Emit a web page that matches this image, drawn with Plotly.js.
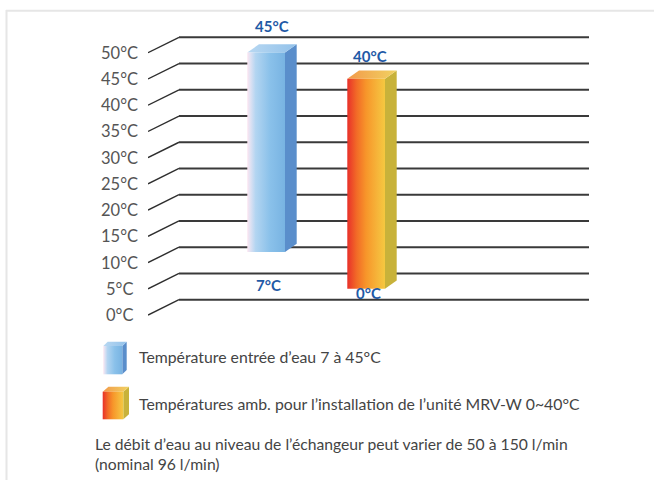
<!DOCTYPE html>
<html>
<head>
<meta charset="utf-8">
<script src="https://cdn.plot.ly/plotly-3.0.1.min.js"></script>
<style>html,body{margin:0;padding:0;background:#fff;}#chart{width:654px;height:480px;}</style>
</head>
<body>
<div id="chart"></div>
<script>
// ---------- data ----------
const TICKS = [0, 5, 10, 15, 20, 25, 30, 35, 40, 45, 50];
const TICK_TEXT = ['0°C', '5°C', '10°C', '15°C', '20°C', '25°C', '30°C', '35°C', '40°C', '45°C', '50°C'];
const SERIES = ['Température entrée d’eau 7 à 45°C',
                'Températures amb. pour l’installation de l’unité MRV-W 0~40°C'];
const LOW = [7, 0];
const HIGH = [45, 40];
const LOW_TEXT = ['7°C', '0°C'];
const HIGH_TEXT = ['45°C', '40°C'];
const NOTE = ['Le débit d’eau au niveau de l’échangeur peut varier de 50 à 150 l/min',
              '(nominal 96 l/min)'];

// ---------- layout constants ----------
const W = 654, H = 480;
const PLOT_L = 148, PLOT_R = 589, PLOT_T = 30, PLOT_B = 320;
const Y_RANGE = [-3.87, 51.39];
const PXY = (PLOT_B - PLOT_T) / (Y_RANGE[1] - Y_RANGE[0]);   // px per °C
const WALL_DX = 31, WALL_DY = 15.4 / PXY;                     // perspective of the floor lines
const X_MAX = PLOT_R - PLOT_L;
const BAR_LEFT = [99.3, 199.3], BAR_W = 37.7;
const BAR_DX = 11.7, BAR_DY = 8.2 / PXY, LIFT = 2.1;
const FRONT_GRAD = [
  [[0, '#fbe4f0'], [0.07, '#e4e3f3'], [0.22, '#b3d5f1'], [0.6, '#8ac1ea'], [1, '#78b3e2']],
  [[0, '#e8302a'], [0.25, '#f26b27'], [0.5, '#f7962a'], [0.8, '#f6b53a'], [1, '#f5c840']]
];
const SIDE_COL = ['#5a8ecb', '#c8b23a'];
const TOP_GRAD = [
  [[0, '#b8d8f2'], [1, '#93c2ea']],
  [[0, '#f29a4a'], [1, '#f1d262']]
];
const LABEL_COL = '#1f5aa6';
const LABEL_SHIFT_TOP = [27, 23], LABEL_SHIFT_BOT = [-33, -4];
const LABEL_DX = [6, 4], LABEL_DX_BOT = [2, 2];

const traces = [];
// floor/grid lines
const dX = [], dY = [], hX = [], hY = [];
TICKS.forEach(v => {
  dX.push(0, WALL_DX, null); dY.push(v - WALL_DY, v, null);
  hX.push(WALL_DX, X_MAX, null); hY.push(v, v, null);
});
traces.push({type: 'scatter', mode: 'lines', x: dX, y: dY, line: {color: '#2e2e2e', width: 1.4}, hoverinfo: 'skip', showlegend: false});
traces.push({type: 'scatter', mode: 'lines', x: hX, y: hY, line: {color: '#3a3a3a', width: 2}, hoverinfo: 'skip', showlegend: false});

// 3D bars
function cube(x0, w, b, t, dx, dy, i, xa, ya) {
  const x1 = x0 + w;
  traces.push({type: 'scatter', mode: 'none', fill: 'toself', xaxis: xa, yaxis: ya,
    x: [x1, x1 + dx, x1 + dx, x1, x1], y: [b, b + dy, t + dy, t, b],
    fillcolor: SIDE_COL[i], hoverinfo: 'skip', showlegend: false});
  traces.push({type: 'scatter', mode: 'none', fill: 'toself', xaxis: xa, yaxis: ya,
    x: [x0, x1, x1 + dx, x0 + dx, x0], y: [t, t, t + dy, t + dy, t],
    fillgradient: {type: 'horizontal', colorscale: TOP_GRAD[i]}, hoverinfo: 'skip', showlegend: false});
  traces.push({type: 'scatter', mode: 'none', fill: 'toself', xaxis: xa, yaxis: ya,
    x: [x0, x1, x1, x0, x0], y: [b, b, t, t, b],
    fillgradient: {type: 'horizontal', colorscale: FRONT_GRAD[i]}, hoverinfo: 'skip', showlegend: false});
}
SERIES.forEach((s, i) => {
  cube(BAR_LEFT[i], BAR_W, LOW[i] + LIFT, HIGH[i] + LIFT, BAR_DX, BAR_DY, i, 'x', 'y');
});

// legend swatches (pixel axes x2/y2)
const ICON_X = [103.3, 102.7], ICON_W = [19, 20.6], ICON_TOP = [346, 391.7], ICON_BOT = [374.3, 419.3];
const ICON_DX = [4.4, 5.7], ICON_DY = [-4.3, -5];
SERIES.forEach((s, i) => {
  cube(ICON_X[i], ICON_W[i], ICON_BOT[i], ICON_TOP[i], ICON_DX[i], ICON_DY[i], i, 'x2', 'y2');
});

const ann = [];
const font = 'Lato, "Open Sans", sans-serif';
TICKS.forEach((v, k) => {
  ann.push({xref: 'paper', yref: 'y', x: 119 / W, y: v - WALL_DY, text: TICK_TEXT[k], showarrow: false,
    xanchor: 'center', yanchor: 'middle', font: {family: font, size: 16.5, color: '#555'}});
});
SERIES.forEach((s, i) => {
  ann.push({xref: 'x', yref: 'y', x: BAR_LEFT[i] + BAR_W / 2 + LABEL_DX[i], y: HIGH[i] + LIFT, yshift: LABEL_SHIFT_TOP[i],
    text: HIGH_TEXT[i], showarrow: false, xanchor: 'center', yanchor: 'middle',
    font: {family: font, size: 15, color: LABEL_COL, weight: 'bold'}});
  ann.push({xref: 'x', yref: 'y', x: BAR_LEFT[i] + BAR_W / 2 + LABEL_DX_BOT[i], y: LOW[i] + LIFT, yshift: LABEL_SHIFT_BOT[i],
    text: LOW_TEXT[i], showarrow: false, xanchor: 'center', yanchor: 'middle',
    font: {family: font, size: 15, color: LABEL_COL, weight: 'bold'}});
  ann.push({xref: 'paper', yref: 'paper', x: 137 / W, y: 1 - [356.7, 403][i] / H, text: s, showarrow: false,
    xanchor: 'left', yanchor: 'middle', font: {family: font, size: 15.8, color: '#444'}});
});
ann.push({xref: 'paper', yref: 'paper', x: 93 / W, y: 1 - 454 / H, text: NOTE.join('<br>'), showarrow: false,
  xanchor: 'left', yanchor: 'middle', align: 'left', font: {family: font, size: 15.7, color: '#444'}});

const hidden = {visible: false, showgrid: false, zeroline: false, fixedrange: true};
const layout = {
  width: W, height: H, margin: {l: 0, r: 0, t: 0, b: 0},
  paper_bgcolor: '#fff', plot_bgcolor: 'rgba(0,0,0,0)', showlegend: false,
  xaxis: Object.assign({}, hidden, {domain: [PLOT_L / W, PLOT_R / W], range: [0, X_MAX]}),
  yaxis: Object.assign({}, hidden, {domain: [1 - PLOT_B / H, 1 - PLOT_T / H], range: Y_RANGE}),
  xaxis2: Object.assign({}, hidden, {domain: [95 / W, 135 / W], range: [95, 135], anchor: 'y2'}),
  yaxis2: Object.assign({}, hidden, {domain: [1 - 425 / H, 1 - 335 / H], range: [425, 335], anchor: 'x2'}),
  annotations: ann,
  shapes: [
    {type: 'line', xref: 'paper', yref: 'paper', x0: 6 / W, x1: 1, y0: 1 - 10.8 / H, y1: 1 - 10.8 / H, line: {color: '#e6e6e6', width: 2}},
    {type: 'line', xref: 'paper', yref: 'paper', x0: 6.5 / W, x1: 6.5 / W, y0: 0, y1: 1 - 10 / H, line: {color: '#e6e6e6', width: 2}}
  ]
};
Plotly.newPlot('chart', traces, layout, {displayModeBar: false, staticPlot: true});
</script>
</body>
</html>
